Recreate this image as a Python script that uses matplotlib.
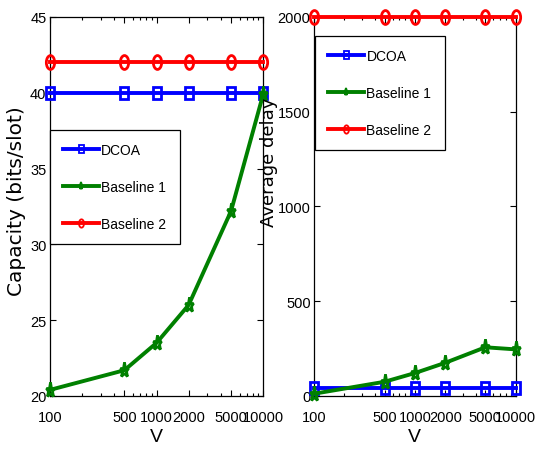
import matplotlib
matplotlib.use('Agg')
import matplotlib.pyplot as plt
from matplotlib.markers import MarkerStyle
from matplotlib.transforms import Affine2D
from matplotlib.ticker import FixedLocator, LogLocator, NullFormatter

# データ
v = [100, 500, 1000, 2000, 5000, 10000]
v_labels = ['100', '500', '1000', '2000', '5000', '10000']

cap_dcoa = [40, 40, 40, 40, 40, 40]
cap_base1 = [20.4, 21.7, 23.5, 26.0, 32.2, 39.9]
cap_base2 = [42, 42, 42, 42, 42, 42]

delay_dcoa = [40, 40, 40, 40, 40, 40]
delay_base1 = [12, 75, 121, 175, 257, 246]
delay_base2 = [2000, 2000, 2000, 2000, 2000, 2000]

series_names = ['DCOA', 'Baseline 1', 'Baseline 2']
colors = ['#0000ff', '#008000', '#ff0000']
# 縦長のマーカー（元の図は縦に引き伸ばされている）
squash = Affine2D().scale(0.6, 1.0)
markers = [MarkerStyle('s', transform=squash),
           MarkerStyle('*', transform=squash),
           MarkerStyle('o', transform=squash)]
msizes = [9, 11, 10]

plt.rcParams['font.family'] = ['Liberation Sans', 'DejaVu Sans']

fig = plt.figure(figsize=(5.36, 4.52), dpi=100)
ax1 = fig.add_axes([0.093, 0.1217, 0.398, 0.8385])
ax2 = fig.add_axes([0.586, 0.1217, 0.376, 0.8385])


def draw(ax, ys, ylim, yticks, ylabel, label_size, label_xy, legend_anchor):
    for y, name, c, m, s in zip(ys, series_names, colors, markers, msizes):
        ax.plot(v, y, color=c, marker=m, lw=2.8, ms=s,
                mfc='none', mec=c, mew=2, label=name, clip_on=False, zorder=3)
    ax.set_xscale('log')
    ax.set_xlim(100, 10000)
    ax.set_ylim(*ylim)
    ax.xaxis.set_major_locator(FixedLocator(v))
    ax.set_xticklabels(v_labels)
    ax.xaxis.set_minor_locator(LogLocator(base=10, subs=range(2, 10)))
    ax.xaxis.set_minor_formatter(NullFormatter())
    ax.set_yticks(yticks)
    ax.tick_params(direction='in', which='both', top=True, right=True,
                   labelsize=10.5, width=0.8)
    ax.tick_params(axis='x', which='major', pad=10)
    ax.tick_params(axis='y', which='major', pad=2.5)
    ax.tick_params(which='major', length=4)
    ax.tick_params(which='minor', length=2.5)
    for sp in ax.spines.values():
        sp.set_linewidth(0.9)
    ax.set_xlabel('V', fontsize=14, labelpad=3)
    ax.set_ylabel(ylabel, fontsize=label_size, family='DejaVu Sans')
    ax.yaxis.set_label_coords(*label_xy)
    leg = ax.legend(loc='upper left', bbox_to_anchor=legend_anchor,
                    borderaxespad=0, fancybox=False, edgecolor='black',
                    fontsize=10, handlelength=2.6, labelspacing=1.65,
                    borderpad=0.95, handletextpad=0.15, framealpha=1)
    leg.get_frame().set_linewidth(0.9)
    for h in leg.legend_handles:
        h.set_markersize(6)
        h.set_markeredgewidth(1.3)


draw(ax1, [cap_dcoa, cap_base1, cap_base2], (20, 45),
     [20, 25, 30, 35, 40, 45], 'Capacity (bits/slot)', 14.5, (-0.11, 0.517),
     (0.0, 0.702))
draw(ax2, [delay_dcoa, delay_base1, delay_base2], (0, 2000),
     [0, 500, 1000, 1500, 2000], 'Average delay', 13, (-0.178, 0.62),
     (0.005, 0.95))

fig.savefig('out.png', dpi=100)
